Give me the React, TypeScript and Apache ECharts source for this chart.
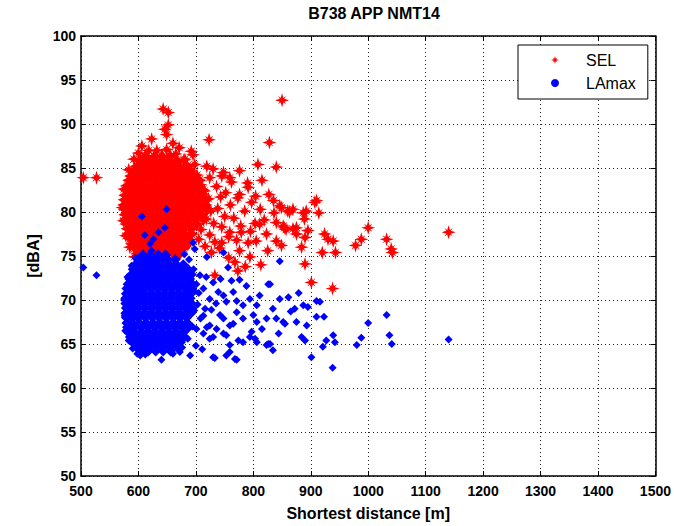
import React, { useEffect, useRef } from "react";
import * as echarts from "echarts";

// ---------- data ----------
const chartTitle = "B738 APP NMT14";
const xAxisName = "Shortest distance [m]";
const yAxisName = "[dBA]";
const xMin = 500, xMax = 1500, xStep = 100;
const yMin = 50, yMax = 100, yStep = 5;

// SEL: dense core, listed row by row as [dBA, distances[]]
const selDenseRows: [number, number[]][] = [
  [86.3, [612, 628, 641, 655]],
  [85.8, [604, 617, 629, 642, 654, 667]],
  [85.2, [598, 610, 622, 635, 647, 659, 671, 684]],
  [84.7, [593, 604, 616, 628, 641, 653, 665, 677, 690]],
  [84.1, [588, 599, 611, 623, 635, 647, 659, 671, 683, 696]],
  [83.6, [585, 595, 607, 619, 631, 643, 656, 668, 680, 692, 705]],
  [83.0, [582, 592, 604, 616, 628, 640, 652, 664, 676, 688, 700]],
  [82.5, [580, 590, 601, 613, 625, 637, 649, 661, 673, 685, 697, 711]],
  [81.9, [578, 588, 598, 610, 622, 634, 646, 658, 670, 682, 694, 707]],
  [81.4, [577, 586, 596, 608, 620, 632, 644, 656, 668, 680, 692, 704, 717]],
  [80.8, [576, 585, 594, 606, 618, 630, 642, 654, 666, 678, 690, 702, 715]],
  [80.3, [577, 586, 597, 609, 621, 633, 645, 657, 669, 681, 693, 705, 719]],
  [79.7, [578, 589, 600, 612, 624, 636, 648, 660, 672, 684, 696, 709]],
  [79.2, [579, 591, 603, 615, 627, 639, 651, 663, 675, 687, 699, 713]],
  [78.6, [581, 592, 604, 616, 628, 640, 652, 664, 676, 688, 701]],
  [78.1, [582, 594, 606, 618, 630, 642, 654, 666, 678, 691]],
  [77.5, [583, 595, 607, 619, 631, 643, 655, 667, 679, 692]],
  [77.0, [586, 598, 610, 622, 634, 646, 658, 670, 683]],
  [76.4, [590, 602, 614, 626, 638, 650, 662, 674, 686]],
  [75.9, [594, 606, 618, 630, 642, 654, 666, 678]],
  [75.3, [600, 612, 624, 636, 648, 660, 672]],
];

// SEL: spread-out points
const selSpread: [number, number][] = [
  [504, 83.9], [527, 83.9], [643, 91.7], [652, 91.3], [652, 89.9], [646, 89.4], [649, 88.8],
  [623, 88.3], [606, 87.5], [649, 87.1], [660, 87.8], [632, 87.0], [671, 87.3], [681, 86.0],
  [692, 86.9], [695, 86.5], [698, 85.4], [719, 85.2], [723, 88.2], [828, 87.9], [840, 85.1],
  [850, 92.7],
  [572, 80.5], [575, 82.6], [583, 84.8], [592, 86.0], [600, 86.7], [618, 87.0], [665, 86.6],
  [574, 79.0], [578, 77.3], [585, 76.0], [593, 74.9], [679, 85.9],
  [702, 84.2], [708, 83.1], [715, 82.4], [722, 81.5], [712, 80.6], [726, 80.1], [718, 79.2],
  [731, 78.7], [709, 78.0], [724, 77.4], [736, 82.9], [743, 81.7], [738, 80.4], [750, 79.5],
  [745, 78.3], [733, 76.6], [757, 77.2], [752, 82.2], [760, 80.8], [766, 79.3], [762, 83.4],
  [748, 84.5], [730, 84.9], [773, 81.6], [778, 78.4], [785, 80.1], [771, 76.8], [716, 76.1],
  [727, 75.4], [741, 75.9], [700, 81.0], [712, 82.0], [688, 76.6], [705, 76.9], [697, 79.6],
  [791, 82.8], [776, 82.0], [804, 81.8], [827, 82.0], [797, 81.1], [812, 80.3], [819, 79.1],
  [803, 78.7], [795, 77.8], [811, 78.6], [823, 77.5], [805, 76.7], [791, 76.5], [776, 75.6],
  [794, 74.9], [768, 74.3], [773, 73.3], [759, 77.7], [779, 77.7], [825, 75.6], [840, 76.7],
  [836, 79.9], [846, 80.7], [852, 78.4], [840, 78.8], [849, 80.5], [860, 80.1], [854, 78.2],
  [849, 76.2], [835, 81.3], [745, 84.1], [759, 83.9], [724, 83.9], [790, 83.3], [815, 83.6],
  [776, 84.7], [808, 85.4], [733, 72.8], [757, 74.8], [745, 76.5], [786, 73.8], [813, 74.0],
  [863, 80.0], [869, 80.3], [887, 79.9], [892, 80.1], [907, 81.1], [910, 81.3], [914, 79.9],
  [869, 78.1], [875, 77.5], [890, 77.1], [895, 77.9], [884, 76.0], [857, 78.0], [875, 78.2],
  [889, 79.2], [924, 77.5], [930, 76.9], [939, 76.7], [920, 75.4], [943, 75.4], [890, 74.1],
  [901, 72.0], [938, 71.3], [978, 76.2], [988, 76.9], [1000, 78.2], [1032, 76.9], [1040, 75.8],
  [1042, 75.4], [1140, 77.7],
];

// LAmax: dense core, row by row as [dBA, distances[]]
const lamaxDenseRows: [number, number[]][] = [
  [75.1, [608, 621, 634, 647]],
  [74.6, [600, 612, 625, 638, 651, 664]],
  [74.0, [595, 606, 618, 630, 642, 654, 666, 678]],
  [73.5, [591, 602, 614, 626, 638, 650, 662, 674, 686]],
  [72.9, [588, 598, 610, 622, 634, 646, 658, 670, 682, 692]],
  [72.4, [585, 594, 605, 617, 629, 641, 653, 665, 677, 689]],
  [71.8, [582, 591, 602, 614, 626, 638, 650, 662, 674, 686, 694]],
  [71.3, [580, 589, 600, 611, 623, 635, 647, 659, 671, 683, 692]],
  [70.7, [579, 588, 598, 609, 621, 633, 645, 657, 669, 681, 691]],
  [70.2, [578, 587, 597, 608, 620, 632, 644, 656, 668, 680, 690]],
  [69.6, [578, 588, 599, 611, 623, 635, 647, 659, 671, 683, 692]],
  [69.1, [579, 589, 600, 612, 624, 636, 648, 660, 672, 684, 693]],
  [68.5, [578, 587, 598, 610, 622, 634, 646, 658, 670, 682, 691]],
  [68.0, [579, 589, 600, 612, 624, 636, 648, 660, 672, 684]],
  [67.4, [580, 590, 601, 613, 625, 637, 649, 661, 673, 685]],
  [66.9, [581, 592, 604, 616, 628, 640, 652, 664, 676, 687]],
  [66.3, [583, 594, 606, 618, 630, 642, 654, 666, 678]],
  [65.8, [586, 597, 609, 621, 633, 645, 657, 669, 680]],
  [65.2, [590, 601, 613, 625, 637, 649, 661, 673]],
  [64.7, [596, 607, 619, 631, 643, 655, 667]],
  [64.2, [604, 617, 630, 643, 656]],
];

// LAmax: spread-out points
const lamaxSpread: [number, number][] = [
  [504, 73.7], [527, 72.8], [649, 80.3], [606, 79.5], [646, 78.2], [635, 77.7], [611, 77.4],
  [626, 76.9], [620, 76.4], [623, 75.6], [695, 76.5], [698, 75.8], [719, 74.9], [748, 75.4],
  [575, 70.0], [576, 68.2], [577, 66.5], [583, 65.4], [590, 64.5], [598, 63.9], [612, 63.8],
  [660, 63.9], [676, 64.6], [686, 65.6], [694, 67.0], [697, 68.8], [698, 71.0], [696, 73.5],
  [688, 74.6], [680, 75.2], [595, 74.8], [588, 73.9], [581, 72.6],
  [756, 73.7], [707, 72.8], [701, 71.8], [713, 71.3], [730, 72.0], [739, 70.9], [724, 70.1],
  [748, 70.5], [753, 69.8], [771, 69.9], [782, 69.4], [794, 70.1], [806, 69.4], [829, 71.8],
  [846, 70.1], [861, 70.3], [771, 68.6], [782, 67.9], [806, 67.5], [823, 67.9], [834, 69.0],
  [840, 67.9], [852, 67.5], [713, 68.2], [724, 67.1], [736, 66.7], [748, 67.9], [759, 67.1],
  [701, 66.7], [713, 66.2], [724, 65.6], [753, 66.0], [759, 64.9], [782, 65.2], [794, 65.8],
  [806, 65.2], [829, 65.0], [834, 64.3], [823, 64.9], [730, 63.5], [753, 63.7], [771, 63.2],
  [640, 63.2], [672, 64.1], [690, 63.7], [603, 63.7], [1000, 67.4], [988, 65.7], [980, 64.9],
  [939, 66.0], [927, 65.4], [942, 65.2], [921, 64.7], [938, 62.3], [901, 63.5], [884, 65.8],
  [890, 65.4], [910, 68.1], [923, 68.1], [893, 67.1], [875, 67.5], [872, 69.0], [887, 69.4],
  [916, 69.8], [910, 69.9], [855, 67.3], [826, 65.0], [797, 66.4], [803, 65.6], [774, 65.4],
  [759, 64.1], [768, 63.3], [733, 63.4], [748, 66.2], [730, 65.8], [765, 67.3], [762, 72.2],
  [788, 71.6], [811, 70.5], [826, 71.8], [846, 74.4], [1032, 68.3], [1037, 66.0], [1041, 65.0],
  [1140, 65.5], [703, 69.5], [708, 67.9], [716, 69.0], [700, 64.8], [711, 64.4], [719, 66.9],
  [727, 68.9], [735, 69.6], [742, 68.3], [705, 70.8], [718, 72.6], [743, 72.4], [765, 70.9],
  [776, 72.3], [800, 68.3], [815, 66.7], [844, 66.2], [865, 68.7], [879, 70.8], [895, 69.2],
];

const flattenRows = (rows: [number, number[]][]) =>
  rows.flatMap(([y, xs]) => xs.map((x) => [x, y] as [number, number]));

const selDense = flattenRows(selDenseRows);
const lamaxDense = flattenRows(lamaxDenseRows);

// ---------- styles ----------
const STAR =
  "path://M0,-10 L2,-3.2 L6,-6 L3.2,-2 L10,0 L3.2,2 L6,6 L2,3.2 L0,10 L-2,3.2 L-6,6 L-3.2,2 L-10,0 L-3.2,-2 L-6,-6 L-2,-3.2 Z";
const FAT_STAR =
  "path://M0,-10 L3,-4 L7,-7 L4,-3 L10,0 L4,3 L7,7 L3,4 L0,10 L-3,4 L-7,7 L-4,3 L-10,0 L-4,-3 L-7,-7 L-3,-4 Z";
const TEXT_FONT = "'Liberation Sans', Arial, sans-serif";
const RED = "#ff0000";
const BLUE = "#0000ff";

export default function App() {
  const ref = useRef<HTMLDivElement>(null);

  useEffect(() => {
    if (!ref.current) return;
    const chart = echarts.init(ref.current, null, { renderer: "svg" });

    const gridLine = { show: true, lineStyle: { color: "#222", width: 1, type: [1, 3] as any } };
    const axisLine = { show: true, onZero: false, lineStyle: { color: "#000", width: 1.5 } };
    const tick = { show: true, inside: true, length: 5, lineStyle: { color: "#000", width: 1 } };
    const tickLabel = {
      color: "#000",
      fontFamily: TEXT_FONT,
      fontSize: 14,
      fontWeight: "bold" as const,
      formatter: (v: number) => String(v),
    };
    const nameStyle = { color: "#000", fontFamily: TEXT_FONT, fontSize: 16, fontWeight: "bold" as const };

    chart.setOption({
      animation: false,
      backgroundColor: "#fff",
      title: {
        text: chartTitle,
        left: 369,
        top: 0,
        textAlign: "center",
        textStyle: nameStyle,
      },
      grid: { left: 81, right: 18, top: 36, bottom: 48, containLabel: false },
      legend: {
        orient: "vertical",
        left: 518,
        top: 45,
        backgroundColor: "#fff",
        borderColor: "#000",
        borderWidth: 1,
        borderRadius: 0,
        padding: [7, 12, 8, 33],
        itemWidth: 8,
        itemHeight: 8,
        itemGap: 7,
        textStyle: {
          color: "#000",
          fontFamily: TEXT_FONT,
          fontSize: 16,
          lineHeight: 16,
          padding: [0, 0, 0, 22],
        },
        data: [
          { name: "SEL", icon: STAR },
          { name: "LAmax", icon: "circle" },
        ],
      },
      xAxis: [
        {
          type: "value",
          min: xMin,
          max: xMax,
          interval: xStep,
          position: "bottom",
          name: xAxisName,
          nameLocation: "middle",
          nameGap: 29,
          nameTextStyle: nameStyle,
          axisLine,
          axisTick: tick,
          axisLabel: { ...tickLabel, margin: 8 },
          splitLine: gridLine,
        },
        {
          type: "value",
          min: xMin,
          max: xMax,
          interval: xStep,
          position: "top",
          axisLine,
          axisTick: tick,
          axisLabel: { show: false },
          splitLine: { show: false },
        },
      ],
      yAxis: [
        {
          type: "value",
          min: yMin,
          max: yMax,
          interval: yStep,
          position: "left",
          name: yAxisName,
          nameLocation: "middle",
          nameGap: 36,
          nameTextStyle: nameStyle,
          axisLine,
          axisTick: tick,
          axisLabel: { ...tickLabel, margin: 5 },
          splitLine: gridLine,
        },
        {
          type: "value",
          min: yMin,
          max: yMax,
          interval: yStep,
          position: "right",
          axisLine,
          axisTick: tick,
          axisLabel: { show: false },
          splitLine: { show: false },
        },
      ],
      series: [
        {
          name: "SEL",
          type: "scatter",
          data: selSpread,
          symbol: STAR,
          symbolSize: 14,
          itemStyle: { color: RED, opacity: 1 },
          emphasis: { disabled: true },
        },
        {
          name: "SEL",
          type: "scatter",
          data: selDense,
          symbol: FAT_STAR,
          symbolSize: 15,
          itemStyle: { color: RED, opacity: 1 },
          emphasis: { disabled: true },
        },
        {
          name: "LAmax",
          type: "scatter",
          data: lamaxSpread,
          symbol: "diamond",
          symbolSize: 8,
          itemStyle: { color: BLUE, opacity: 1 },
          emphasis: { disabled: true },
        },
        {
          name: "LAmax",
          type: "scatter",
          data: lamaxDense,
          symbol: "diamond",
          symbolSize: 11,
          itemStyle: { color: BLUE, opacity: 1 },
          emphasis: { disabled: true },
        },
      ],
    });

    return () => chart.dispose();
  }, []);

  return (
    <div
      ref={ref}
      style={{ position: "fixed", left: 0, top: 0, width: 674, height: 526, background: "#fff" }}
    />
  );
}
